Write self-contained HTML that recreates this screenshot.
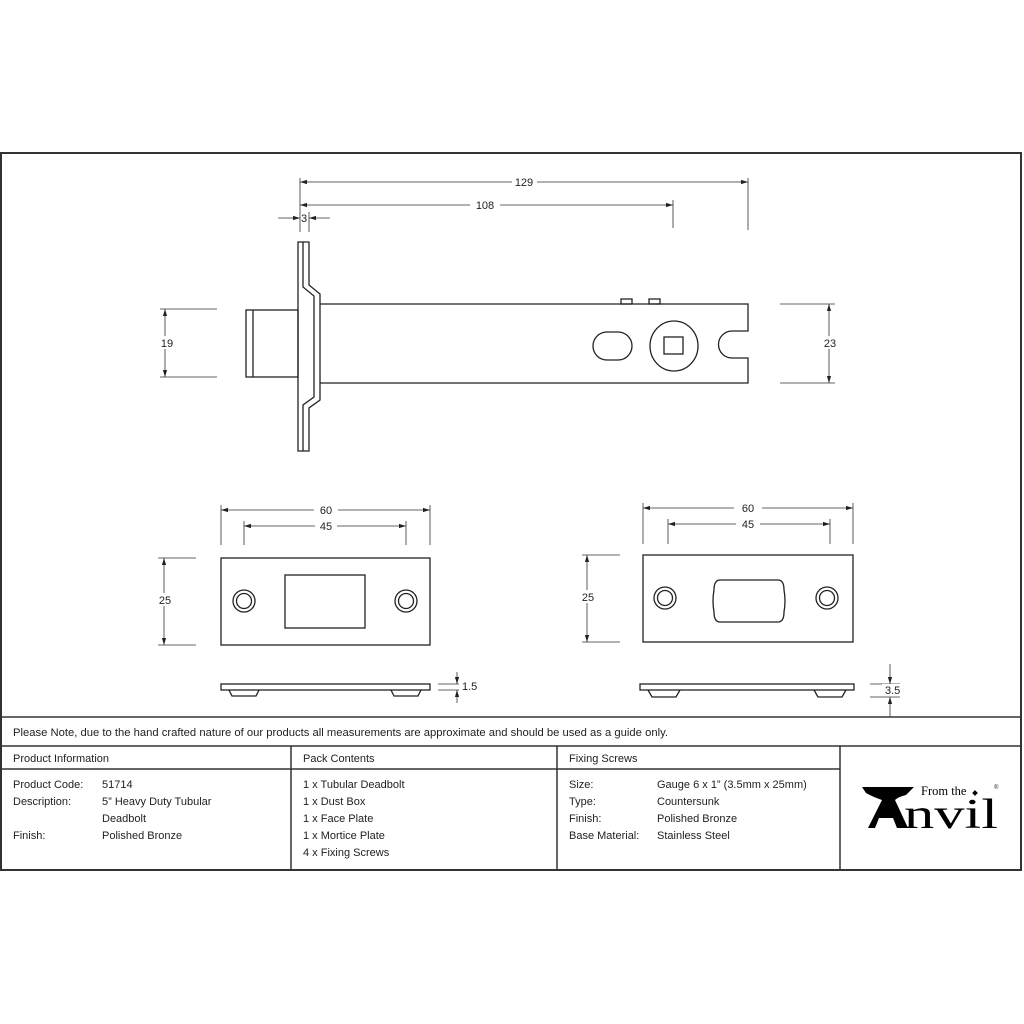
<!DOCTYPE html>
<html><head><meta charset="utf-8"><style>
html,body{margin:0;padding:0;background:#fff;}
svg{display:block;}
text{font-family:"Liberation Sans",sans-serif;font-size:11px;fill:#222;}
.d{stroke:#333;stroke-width:0.8;fill:none;}
.o{stroke:#222;stroke-width:1.3;fill:none;}
</style></head><body>
<svg width="1024" height="1024" viewBox="0 0 1024 1024" xmlns="http://www.w3.org/2000/svg">
<defs>
<marker id="a" viewBox="0 0 10 10" refX="10" refY="5" markerWidth="7" markerHeight="7" orient="auto-start-reverse" markerUnits="userSpaceOnUse"><path d="M0,2 L10,5 L0,8 z" fill="#222"/></marker>
</defs>
<!-- frame -->
<rect x="1" y="153" width="1020" height="717" fill="none" stroke="#333" stroke-width="2"/>
<line x1="1" y1="717" x2="1021" y2="717" stroke="#333" stroke-width="1.5"/>
<line x1="1" y1="746" x2="1021" y2="746" stroke="#333" stroke-width="1.5"/>
<line x1="1" y1="769" x2="840" y2="769" stroke="#333" stroke-width="1.5"/>
<line x1="291" y1="746" x2="291" y2="870" stroke="#333" stroke-width="1.5"/>
<line x1="557" y1="746" x2="557" y2="870" stroke="#333" stroke-width="1.5"/>
<line x1="840" y1="746" x2="840" y2="870" stroke="#333" stroke-width="1.5"/>

<!-- deadbolt -->
<g class="o">
<path d="M298,242 H309 V285 L320,294 V400 L309,408 V451 H298 Z"/>
<path d="M303,242 V287 L314,296 V397 L303,405 V451"/>
<path d="M320,304 H748 V331 H732 A13.5,13.5 0 0 0 732,358 H748 V383 H320"/>
<rect x="246" y="310" width="52" height="67"/>
<line x1="253" y1="310" x2="253" y2="377"/>
<rect x="621" y="299" width="11" height="5"/>
<rect x="649" y="299" width="11" height="5"/>
<rect x="593" y="332" width="39" height="28" rx="14"/>
<ellipse cx="674" cy="346" rx="24" ry="25"/>
<rect x="664" y="337" width="19" height="17"/>
</g>
<!-- deadbolt dims -->
<g class="d">
<line x1="300" y1="178" x2="300" y2="232"/>
<line x1="748" y1="178" x2="748" y2="230"/>
<line x1="673" y1="200" x2="673" y2="228"/>
<line x1="309" y1="212" x2="309" y2="232"/>
<line x1="300" y1="182" x2="535" y2="182" marker-start="url(#a)"/>
<line x1="537" y1="182" x2="748" y2="182" marker-end="url(#a)"/>
<line x1="300" y1="205" x2="470" y2="205" marker-start="url(#a)"/>
<line x1="500" y1="205" x2="673" y2="205" marker-end="url(#a)"/>
<line x1="278" y1="218" x2="300" y2="218" marker-end="url(#a)"/>
<line x1="330" y1="218" x2="309" y2="218" marker-end="url(#a)"/>
<line x1="160" y1="309" x2="217" y2="309"/>
<line x1="160" y1="377" x2="217" y2="377"/>
<line x1="165" y1="309" x2="165" y2="377" marker-start="url(#a)" marker-end="url(#a)"/>
<line x1="780" y1="304" x2="835" y2="304"/>
<line x1="780" y1="383" x2="835" y2="383"/>
<line x1="829" y1="304" x2="829" y2="383" marker-start="url(#a)" marker-end="url(#a)"/>
</g>
<g fill="#fff"><rect x="512" y="176" width="24" height="12"/><rect x="472" y="199" width="26" height="12"/><rect x="158" y="336" width="20" height="13"/><rect x="820" y="336" width="20" height="13"/></g>
<text x="524" y="186" text-anchor="middle">129</text>
<text x="485" y="209" text-anchor="middle">108</text>
<text x="304" y="222" text-anchor="middle">3</text>
<text x="167" y="347" text-anchor="middle">19</text>
<text x="830" y="347" text-anchor="middle">23</text>

<!-- left plate -->
<g class="o">
<rect x="221" y="558" width="209" height="87"/>
<rect x="285" y="575" width="80" height="53"/>
<circle cx="244" cy="601" r="11"/><circle cx="244" cy="601" r="7.5"/>
<circle cx="406" cy="601" r="11"/><circle cx="406" cy="601" r="7.5"/>
<rect x="221" y="684" width="209" height="6"/>
<path d="M229,690 L232,696 H256 L259,690"/>
<path d="M391,690 L394,696 H418 L421,690"/>
</g>
<g class="d">
<line x1="221" y1="505" x2="221" y2="545"/>
<line x1="430" y1="505" x2="430" y2="545"/>
<line x1="244" y1="521" x2="244" y2="545"/>
<line x1="406" y1="521" x2="406" y2="545"/>
<line x1="221" y1="510" x2="430" y2="510" marker-start="url(#a)" marker-end="url(#a)"/>
<line x1="244" y1="526" x2="406" y2="526" marker-start="url(#a)" marker-end="url(#a)"/>
<line x1="158" y1="558" x2="196" y2="558"/>
<line x1="158" y1="645" x2="196" y2="645"/>
<line x1="164" y1="558" x2="164" y2="645" marker-start="url(#a)" marker-end="url(#a)"/>
<line x1="438" y1="684" x2="459" y2="684"/>
<line x1="438" y1="690" x2="459" y2="690"/>
<line x1="457" y1="672" x2="457" y2="684" marker-end="url(#a)"/>
<line x1="457" y1="703" x2="457" y2="690" marker-end="url(#a)"/>
</g>
<g fill="#fff"><rect x="314" y="503" width="24" height="13"/><rect x="315" y="519" width="22" height="13"/><rect x="156" y="593" width="18" height="13"/></g>
<text x="326" y="514" text-anchor="middle">60</text>
<text x="326" y="530" text-anchor="middle">45</text>
<text x="165" y="604" text-anchor="middle">25</text>
<text x="462" y="690">1.5</text>

<!-- right plate -->
<g class="o">
<rect x="643" y="555" width="210" height="87"/>
<path d="M720,580 H778 Q784,580 784,590 Q786,601 784,612 Q784,622 778,622 H720 Q714,622 714,612 Q712,601 714,590 Q714,580 720,580 Z"/>
<circle cx="665" cy="598" r="11"/><circle cx="665" cy="598" r="7.5"/>
<circle cx="827" cy="598" r="11"/><circle cx="827" cy="598" r="7.5"/>
<rect x="640" y="684" width="214" height="6"/>
<path d="M648,690 L652,697 H676 L680,690"/>
<path d="M814,690 L818,697 H842 L846,690"/>
</g>
<g class="d">
<line x1="643" y1="503" x2="643" y2="544"/>
<line x1="853" y1="503" x2="853" y2="544"/>
<line x1="668" y1="519" x2="668" y2="544"/>
<line x1="830" y1="519" x2="830" y2="544"/>
<line x1="643" y1="508" x2="853" y2="508" marker-start="url(#a)" marker-end="url(#a)"/>
<line x1="668" y1="524" x2="830" y2="524" marker-start="url(#a)" marker-end="url(#a)"/>
<line x1="582" y1="555" x2="620" y2="555"/>
<line x1="582" y1="642" x2="620" y2="642"/>
<line x1="587" y1="555" x2="587" y2="642" marker-start="url(#a)" marker-end="url(#a)"/>
<line x1="870" y1="684" x2="900" y2="684"/>
<line x1="870" y1="697" x2="900" y2="697"/>
<line x1="890" y1="664" x2="890" y2="684" marker-end="url(#a)"/>
<line x1="890" y1="717" x2="890" y2="697" marker-end="url(#a)"/>
</g>
<g fill="#fff"><rect x="734" y="501" width="28" height="13"/><rect x="736" y="517" width="24" height="13"/><rect x="579" y="590" width="18" height="13"/><rect x="882" y="684" width="20" height="12"/></g>
<text x="748" y="512" text-anchor="middle">60</text>
<text x="748" y="528" text-anchor="middle">45</text>
<text x="588" y="601" text-anchor="middle">25</text>
<text x="885" y="694">3.5</text>

<!-- table text -->
<text x="13" y="736" textLength="655" lengthAdjust="spacingAndGlyphs">Please Note, due to the hand crafted nature of our products all measurements are approximate and should be used as a guide only.</text>
<text x="13" y="762">Product Information</text>
<text x="303" y="762">Pack Contents</text>
<text x="569" y="762">Fixing Screws</text>
<text x="13" y="788">Product Code:</text><text x="102" y="788">51714</text>
<text x="13" y="805">Description:</text><text x="102" y="805">5” Heavy Duty Tubular</text>
<text x="102" y="822">Deadbolt</text>
<text x="13" y="839">Finish:</text><text x="102" y="839">Polished Bronze</text>
<text x="303" y="788">1 x Tubular Deadbolt</text>
<text x="303" y="805">1 x Dust Box</text>
<text x="303" y="822">1 x Face Plate</text>
<text x="303" y="839">1 x Mortice Plate</text>
<text x="303" y="856">4 x Fixing Screws</text>
<text x="569" y="788">Size:</text><text x="657" y="788">Gauge 6 x 1” (3.5mm x 25mm)</text>
<text x="569" y="805">Type:</text><text x="657" y="805">Countersunk</text>
<text x="569" y="822">Finish:</text><text x="657" y="822">Polished Bronze</text>
<text x="569" y="839">Base Material:</text><text x="657" y="839">Stainless Steel</text>

<!-- logo -->
<path d="M862,787 H914 L906,795 Q898,797 895,800 L908,828 H897 L893,818 H879 L875,828 H868 L882,800 Q873,797 866,793 Z" fill="#000"/>
<text x="904" y="828" textLength="94" lengthAdjust="spacingAndGlyphs" style="font-family:'Liberation Serif',serif;font-size:42px;fill:#000;">nvil</text>
<text x="921" y="795" style="font-family:'Liberation Serif',serif;font-size:12.5px;fill:#000;">From the</text>
<rect x="973" y="791" width="4" height="4" transform="rotate(45 975 793)" fill="#000"/>
<text x="994" y="789" style="font-size:6px;">®</text>
</svg>
</body></html>
